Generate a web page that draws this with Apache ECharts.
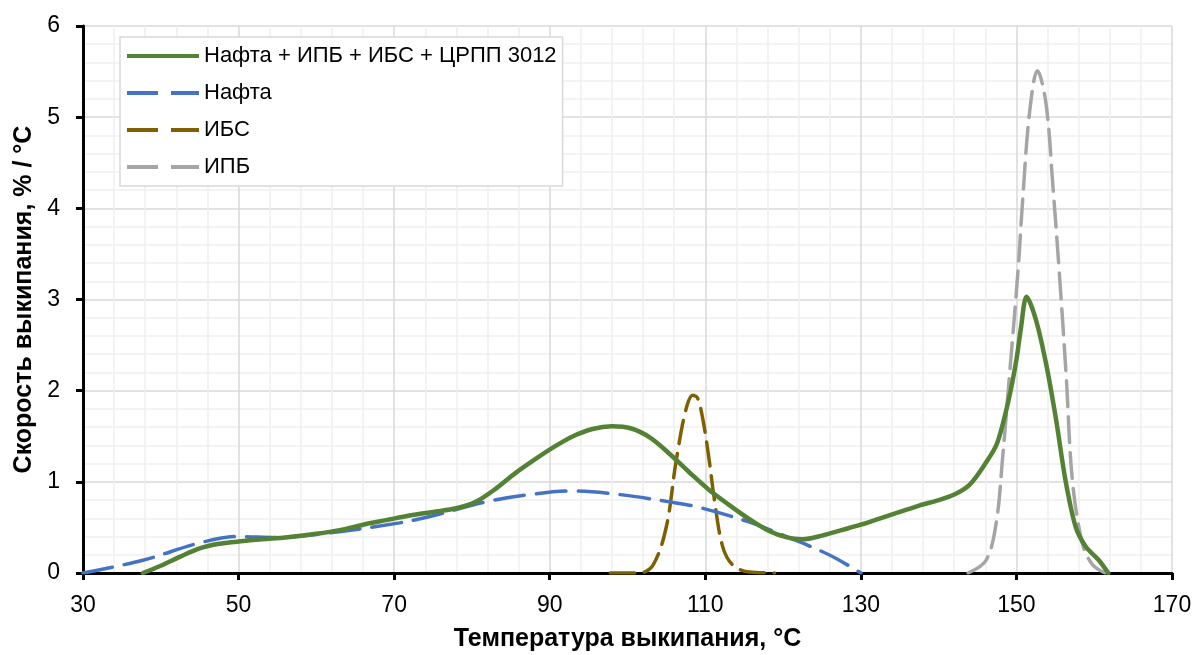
<!DOCTYPE html>
<html>
<head>
<meta charset="utf-8">
<script src="https://cdn.jsdelivr.net/npm/echarts@6/dist/echarts.min.js"></script>
<style>
html,body{margin:0;padding:0;background:#fff;}
#c{width:1193px;height:655px;}
</style>
</head>
<body>
<div id="c"></div>
<script>
const seriesNames = ['Нафта + ИПБ + ИБС + ЦРПП 3012', 'Нафта', 'ИБС', 'ИПБ'];
const xTicks = [30, 50, 70, 90, 110, 130, 150, 170];
const yTicks = [0, 1, 2, 3, 4, 5, 6];

const mixX = [37.7, 40, 42.5, 45, 47.5, 50, 53, 56, 60, 63, 66, 69, 72, 75, 78, 80.5, 83, 85.5, 88, 90.5, 93, 95.5, 98, 100.5, 103, 105.5, 108, 110.5, 113, 115.5, 118, 120.5, 122.5, 125, 127.5, 130, 132.5, 135, 137.5, 140, 142, 144, 146, 147.5, 149, 150, 150.6, 151.3, 152.5, 153.8, 155.1, 156.3, 157.6, 158.9, 160.6, 161.8];
const mixY = [0, 0.08, 0.18, 0.27, 0.32, 0.345, 0.37, 0.39, 0.43, 0.47, 0.53, 0.58, 0.63, 0.67, 0.71, 0.78, 0.92, 1.09, 1.24, 1.38, 1.5, 1.58, 1.61, 1.585, 1.48, 1.3, 1.1, 0.91, 0.75, 0.6, 0.47, 0.39, 0.37, 0.41, 0.47, 0.53, 0.6, 0.67, 0.74, 0.8, 0.86, 0.97, 1.2, 1.42, 1.9, 2.34, 2.7, 3.03, 2.78, 2.30, 1.68, 1.02, 0.51, 0.29, 0.14, 0];

const naphthaX = [30, 37.7, 45, 49.9, 54.9, 61.7, 70.7, 74.6, 81.8, 87.4, 93, 99, 105.4, 109.2, 115.6, 120.4, 125.9, 130];
const naphthaY = [0, 0.14, 0.33, 0.4, 0.39, 0.44, 0.55, 0.62, 0.78, 0.86, 0.9, 0.86, 0.78, 0.72, 0.56, 0.4, 0.2, 0];

const ibsX = [97.8, 101.5, 103.3, 105, 106.2, 107.5, 108.4, 109, 109.7, 110.5, 111.1, 112.2, 113.5, 115.7, 118.9];
const ibsY = [0, 0, 0.09, 0.51, 1.2, 1.79, 1.95, 1.92, 1.68, 1.24, 0.85, 0.3, 0.09, 0.01, 0];

const ipbX = [143.8, 146.1, 147.4, 148.2, 149.1, 150.2, 150.8, 151.7, 152.7, 153.8, 154.7, 155.5, 156.4, 157.2, 158.5, 159.8, 161.4];
const ipbY = [0, 0.14, 0.55, 1.24, 2.16, 3.31, 4.09, 5.06, 5.51, 5.15, 4.23, 3.31, 2.16, 1.01, 0.32, 0.09, 0];

function pairs(xs, ys){ return xs.map((x,i)=>[x, ys[i]]); }

const FONT = '"Liberation Sans", Arial, sans-serif';
const SOLID_ICON = 'path://M0,0H72V4H0Z';
const DASH_ICON = 'path://M0,0H31V4H0Z M44,0H72V4H44Z';

const chart = echarts.init(document.getElementById('c'), null, {renderer:'canvas'});
chart.setOption({
  animation: false,
  backgroundColor: '#fff',
  textStyle: {fontFamily: FONT},
  grid: {left: 83, right: 21, top: 26, bottom: 82, containLabel: false, outerBoundsMode: 'none'},
  legend: {
    orient: 'vertical', left: 120, top: 37,
    backgroundColor: '#fff', borderColor: '#d9d9d9', borderWidth: 1.5,
    padding: [7, 6, 7, 7],
    itemWidth: 72, itemHeight: 4, itemGap: 13,
    textStyle: {fontFamily: FONT, fontSize: 22, color: '#000', lineHeight: 24},
    data: [
      {name: seriesNames[0], icon: SOLID_ICON},
      {name: seriesNames[1], icon: DASH_ICON},
      {name: seriesNames[2], icon: DASH_ICON},
      {name: seriesNames[3], icon: DASH_ICON}
    ]
  },
  xAxis: {
    type: 'value', min: xTicks[0], max: xTicks[xTicks.length-1], interval: 20,
    name: 'Температура выкипания, °С', nameLocation: 'middle', nameGap: 54,
    nameTextStyle: {fontFamily: FONT, fontSize: 25, fontWeight: 'bold', color: '#000'},
    axisLine: {show: true, onZero: false, lineStyle: {color: '#000', width: 3}},
    axisTick: {show: true, inside: false, length: 7, lineStyle: {color: '#000', width: 3}},
    axisLabel: {fontFamily: FONT, fontSize: 23, color: '#000', margin: 21},
    splitLine: {show: true, lineStyle: {color: '#d9d9d9', width: 1.5}},
    minorTick: {show: false, splitNumber: 5},
    minorSplitLine: {show: true, lineStyle: {color: '#efefef', width: 1.5}}
  },
  yAxis: {
    type: 'value', min: yTicks[0], max: yTicks[yTicks.length-1], interval: 1,
    name: 'Скорость выкипания, % / °С', nameLocation: 'middle', nameGap: 45,
    nameTextStyle: {fontFamily: FONT, fontSize: 25, fontWeight: 'bold', color: '#000'},
    axisLine: {show: true, onZero: false, lineStyle: {color: '#000', width: 3}},
    axisTick: {show: true, inside: false, length: 7, lineStyle: {color: '#000', width: 3}},
    axisLabel: {fontFamily: FONT, fontSize: 23, color: '#000', margin: 23},
    splitLine: {show: true, lineStyle: {color: '#d9d9d9', width: 1.5}},
    minorTick: {show: false, splitNumber: 5},
    minorSplitLine: {show: true, lineStyle: {color: '#efefef', width: 1.5}}
  },
  series: [
    {name: seriesNames[0], type: 'line', data: pairs(mixX, mixY), smooth: 0.3, showSymbol: false, symbol: 'none', z: 5,
     lineStyle: {color: '#548235', width: 4.5, cap: 'round'}, itemStyle: {color: '#548235'}},
    {name: seriesNames[1], type: 'line', data: pairs(naphthaX, naphthaY), smooth: 0.35, showSymbol: false, symbol: 'none', z: 4,
     lineStyle: {color: '#4472c4', width: 3.5, type: [30, 12], cap: 'round'}, itemStyle: {color: '#4472c4'}},
    {name: seriesNames[2], type: 'line', data: pairs(ibsX, ibsY), smooth: 0.35, showSymbol: false, symbol: 'none', z: 3,
     lineStyle: {color: '#7f6000', width: 3.5, type: [24, 10], cap: 'round'}, itemStyle: {color: '#7f6000'}},
    {name: seriesNames[3], type: 'line', data: pairs(ipbX, ipbY), smooth: 0.35, showSymbol: false, symbol: 'none', z: 3,
     lineStyle: {color: '#a5a5a5', width: 3.5, type: [26, 10], cap: 'round'}, itemStyle: {color: '#a5a5a5'}}
  ]
});
</script>
</body>
</html>
